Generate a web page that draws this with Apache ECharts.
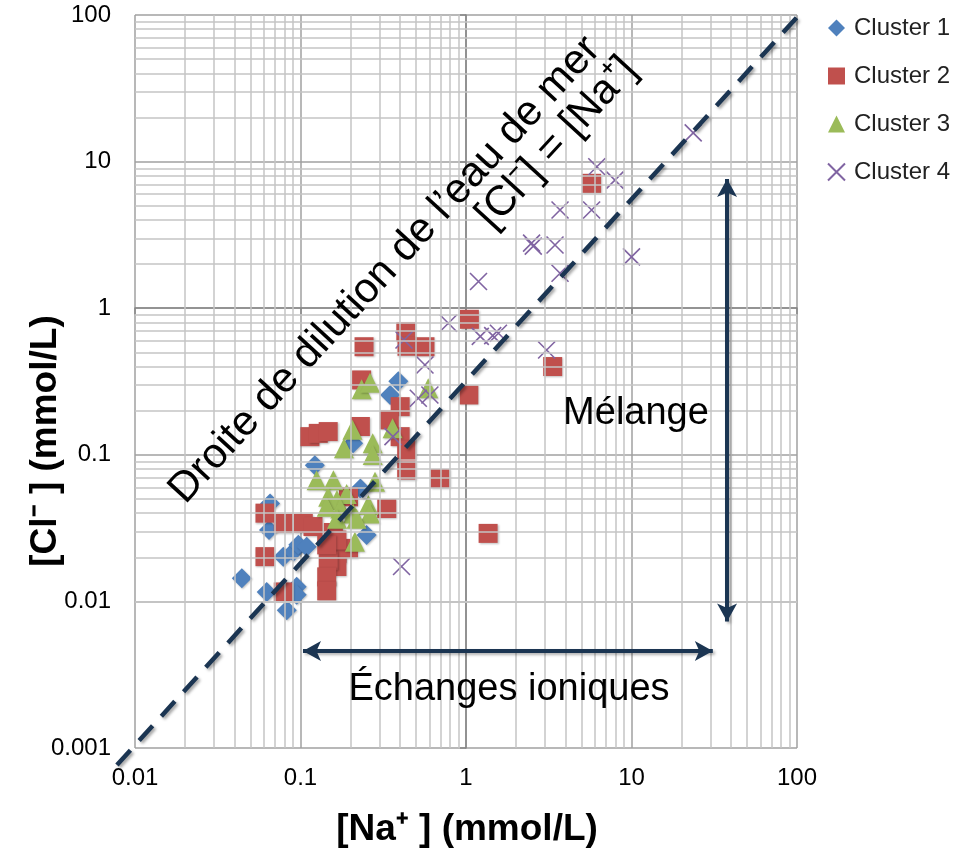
<!DOCTYPE html>
<html><head><meta charset="utf-8">
<script src="https://cdn.jsdelivr.net/npm/echarts@6/dist/echarts.min.js"></script>
<style>html,body{margin:0;padding:0;background:#fff}#c{width:965px;height:859px}</style>
</head><body><div id="c"></div>
<script>
// ---- tick labels ----
const xTickLabels = ['0.01', '0.1', '1', '10', '100'];
const yTickLabels = ['0.001', '0.01', '0.1', '1', '10', '100'];
const seriesNames = ['Cluster 1', 'Cluster 2', 'Cluster 3', 'Cluster 4'];

// ---- data: [Na+, Cl-] in mmol/L ----
const cluster1 = [
  [0.0442, 0.0144], [0.0655, 0.0466], [0.0645, 0.0307], [0.0625, 0.0116], [0.0787, 0.0202],
  [0.0906, 0.0218], [0.097, 0.0243], [0.109, 0.0236], [0.155, 0.0236], [0.0948, 0.0126],
  [0.0948, 0.0111], [0.0826, 0.0087], [0.39, 0.318], [0.348, 0.256], [0.208, 0.12],
  [0.122, 0.085], [0.23, 0.059], [0.251, 0.0284]
];
const cluster2 = [
  [1.048, 0.84], [0.433, 0.69], [0.44, 0.55], [0.565, 0.546], [0.242, 0.546], [0.234, 0.324],
  [0.23, 0.156], [0.40, 0.213], [0.344, 0.173], [1.04, 0.256], [0.40, 0.133], [0.438, 0.108],
  [0.438, 0.0787], [0.697, 0.069], [1.36, 0.0291], [0.332, 0.043], [0.114, 0.133], [0.128, 0.140],
  [0.147, 0.144], [0.195, 0.0517], [0.061, 0.040], [0.0787, 0.0341], [0.104, 0.0341], [0.119, 0.0324],
  [0.158, 0.0295], [0.166, 0.0213], [0.195, 0.023], [0.061, 0.0202], [0.166, 0.0173], [0.147, 0.0189],
  [0.144, 0.0147], [0.144, 0.0118], [0.0787, 0.0116], [5.74, 7.11], [3.34, 0.40], [0.166, 0.0262],
  [0.144, 0.0243]
];
const cluster3 = [
  [0.234, 0.28], [0.263, 0.31], [0.591, 0.284], [0.36, 0.152], [0.206, 0.148], [0.183, 0.111],
  [0.273, 0.12], [0.273, 0.0997], [0.125, 0.067], [0.158, 0.067], [0.282, 0.0656], [0.147, 0.0517],
  [0.166, 0.0492], [0.19, 0.054], [0.144, 0.0443], [0.174, 0.043], [0.208, 0.0398], [0.257, 0.0455],
  [0.263, 0.0398], [0.166, 0.0366], [0.218, 0.0366], [0.213, 0.0255]
];
const cluster4 = [
  [6.17, 9.23], [7.94, 7.48], [3.70, 4.68], [5.74, 4.68], [2.49, 2.78], [2.55, 2.65],
  [3.45, 2.70], [10.0, 2.24], [3.70, 1.73], [1.19, 1.52], [0.782, 0.789], [1.22, 0.642],
  [1.57, 0.675], [1.45, 0.65], [3.07, 0.519], [0.422, 0.607], [0.565, 0.41], [0.515, 0.243],
  [0.605, 0.256], [0.362, 0.133], [0.408, 0.0173], [23.6, 15.7]
];

// ---- annotation geometry (data space, mmol/L) ----
const dilutionLine = [[0.00778, 0.000766], [107, 105]];
const arrowMelange = [[37.8, 7.6], [37.8, 0.0073]];
const arrowEchanges = [[0.1035, 0.00459], [31.0, 0.00459]];

const colors = ['#4F81BD', '#C0504D', '#9BBB59', '#8064A2'];
const navy = '#1B3552';
const FONT = 'Liberation Sans';

// minor grid values (2..9 x each decade)
function minorValues(lo, hi) {
  const out = [];
  for (let d = lo; d < hi; d++) for (let k = 2; k <= 9; k++) out.push(k * Math.pow(10, d));
  return out;
}
const minorX = minorValues(-2, 2);
const minorY = minorValues(-3, 2);

const crossPath = 'path://M0,0L10,10M10,0L0,10';

const chart = echarts.init(document.getElementById('c'), null, { renderer: 'canvas' });

function tickLabel(arr, base) {
  return function (v) {
    const i = Math.round(Math.log10(v)) - base;
    return arr[i] !== undefined ? arr[i] : '';
  };
}

const markerStyle = c => ({ color: c, opacity: 1, shadowColor: 'rgba(0,0,0,0.25)', shadowBlur: 2, shadowOffsetX: 1, shadowOffsetY: 1 });

const textGraphics = [
  { type: 'text', x: 385, y: 270, rotation: 47.5 * Math.PI / 180, z: 10,
    style: { text: 'Droite de dilution de l\u2019eau de mer', fontSize: 42, fontFamily: FONT, fill: '#000', align: 'center', verticalAlign: 'middle' } },
  { type: 'text', x: 557, y: 143, rotation: 47.5 * Math.PI / 180, z: 10,
    style: { text: '[Cl\u207B] = [Na\u207A]', fontSize: 42, fontFamily: FONT, fill: '#000', align: 'center', verticalAlign: 'middle' } },
  { type: 'text', x: 636, y: 414, z: 10,
    style: { text: 'M\u00e9lange', fontSize: 38, fontFamily: FONT, fill: '#000', align: 'center', verticalAlign: 'middle' } },
  { type: 'text', x: 509, y: 690, z: 10,
    style: { text: '\u00c9changes ioniques', fontSize: 38, fontFamily: FONT, fill: '#000', align: 'center', verticalAlign: 'middle' } },
  { type: 'text', x: 467, y: 830, z: 10,
    style: { text: '[Na\u207A ] (mmol/L)', fontSize: 37, fontWeight: 'bold', fontFamily: FONT, fill: '#000', align: 'center', verticalAlign: 'middle' } },
  { type: 'text', x: 46, y: 441, rotation: Math.PI / 2, z: 10,
    style: { text: '[Cl\u207B ] (mmol/L)', fontSize: 37, fontWeight: 'bold', fontFamily: FONT, fill: '#000', align: 'center', verticalAlign: 'middle' } }
];

const option = {
  animation: false,
  backgroundColor: '#ffffff',
  grid: { left: 135, right: 168, top: 15, bottom: 111, containLabel: false },
  xAxis: [{
    type: 'log', logBase: 10, min: 0.01, max: 100,
    axisLine: { show: true, lineStyle: { color: '#868686', width: 1.5 } },
    axisTick: { show: true, length: 6, lineStyle: { color: '#868686', width: 1.5 } },
    axisLabel: { formatter: tickLabel(xTickLabels, -2), fontSize: 24, fontFamily: FONT, color: '#000', margin: 18 },
    splitLine: { show: true, lineStyle: { color: '#a0a0a0', width: 1.5 } },
    minorTick: { show: false }, minorSplitLine: { show: false }
  }, {
    // hidden linear axis in log10 units, used to place the dilution line beyond the plot edges
    type: 'value', min: -2, max: 2, show: false, splitLine: { show: false }
  }],
  yAxis: [{
    type: 'log', logBase: 10, min: 0.001, max: 100,
    axisLine: { show: true, lineStyle: { color: '#868686', width: 1.5 } },
    axisTick: { show: true, length: 6, lineStyle: { color: '#868686', width: 1.5 } },
    axisLabel: { formatter: tickLabel(yTickLabels, -3), fontSize: 24, fontFamily: FONT, color: '#000', margin: 24 },
    splitLine: { show: true, lineStyle: { color: '#a0a0a0', width: 1.5 } },
    minorTick: { show: false }, minorSplitLine: { show: false }
  }, {
    type: 'value', min: -3, max: 2, show: false, splitLine: { show: false }
  }],
  legend: {
    orient: 'vertical', left: 822, top: 11, itemGap: 24, itemWidth: 17, itemHeight: 17,
    textStyle: { fontSize: 24, fontFamily: FONT, color: '#222', padding: [0, 0, 0, 4] },
    data: seriesNames
  },
  series: [
    {
      name: 'minorGrid', type: 'scatter', data: [], silent: true, z: 0,
      markLine: {
        silent: true, symbol: ['none', 'none'], label: { show: false }, animation: false,
        lineStyle: { color: '#c4c4c4', width: 1.5, type: 'solid' },
        emphasis: { disabled: true },
        data: minorX.map(v => ({ xAxis: v })).concat(minorY.map(v => ({ yAxis: v })))
      }
    },
    { name: seriesNames[0], type: 'scatter', data: cluster1, symbol: 'diamond', symbolSize: 20, z: 2, itemStyle: markerStyle(colors[0]) },
    { name: seriesNames[1], type: 'scatter', data: cluster2, symbol: 'rect', symbolSize: 19, z: 2, itemStyle: markerStyle(colors[1]) },
    { name: seriesNames[2], type: 'scatter', data: cluster3, symbol: 'triangle', symbolSize: 20, z: 2, itemStyle: markerStyle(colors[2]) },
    {
      name: seriesNames[3], type: 'scatter', data: cluster4, symbol: crossPath, symbolSize: 17, z: 2,
      itemStyle: { color: 'rgba(0,0,0,0)', opacity: 1, borderColor: colors[3], borderWidth: 1.6 }
    },
    {
      name: 'arrows', type: 'scatter', data: [], z: 5, silent: true,
      markLine: {
        silent: true, symbol: ['arrow', 'arrow'], symbolSize: [15, 18], label: { show: false },
        lineStyle: { color: navy, width: 4, type: 'solid', shadowColor: 'rgba(0,0,0,0.3)', shadowBlur: 3, shadowOffsetX: 2, shadowOffsetY: 2 },
        emphasis: { disabled: true },
        data: [
          [{ coord: arrowMelange[0] }, { coord: arrowMelange[1] }],
          [{ coord: arrowEchanges[0] }, { coord: arrowEchanges[1] }]
        ]
      }
    }
  ],
  graphic: textGraphics
};
chart.setOption(option);

// dilution line: endpoints converted through the chart's own (log10-unit) axes, drawn unclipped
const pts = dilutionLine.map(p => chart.convertToPixel({ xAxisIndex: 1, yAxisIndex: 1 }, [Math.log10(p[0]), Math.log10(p[1])]));
chart.setOption({
  graphic: textGraphics.concat([{
    type: 'line', z: 6, silent: true,
    shape: { x1: pts[0][0], y1: pts[0][1], x2: pts[1][0], y2: pts[1][1] },
    style: { stroke: navy, lineWidth: 4.5, lineDash: [20, 13], shadowColor: 'rgba(0,0,0,0.35)', shadowBlur: 3, shadowOffsetX: 2, shadowOffsetY: 2 }
  }])
});
</script>
</body></html>
